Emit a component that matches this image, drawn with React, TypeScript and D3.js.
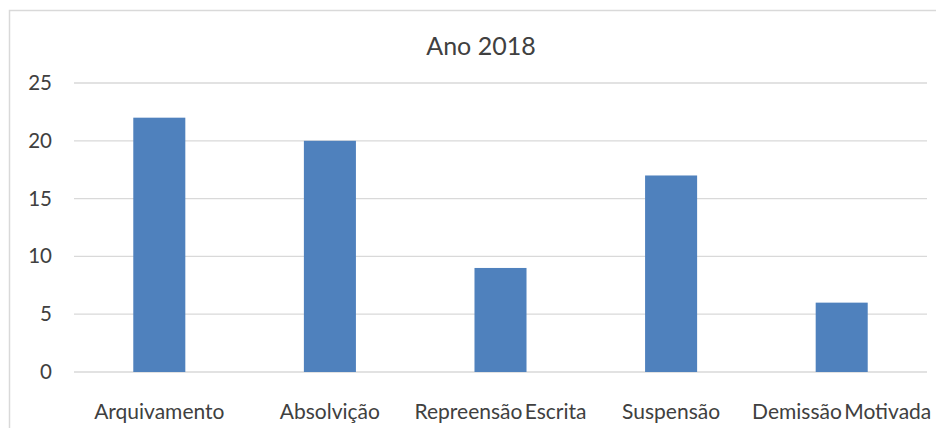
import React from "react";
import * as d3 from "d3";

const categories = ["Arquivamento", "Absolvição", "Repreensão Escrita", "Suspensão", "Demissão Motivada"];
const values = [22, 20, 9, 17, 6];
const yTicks = [0, 5, 10, 15, 20, 25];
const title = "Ano 2018";

export default function App() {
  const W = 936, H = 428;
  const left = 74, right = 927, top = 83, bottom = 372;
  const x = d3.scaleBand<string>().domain(categories).range([left, right]).paddingInner(0.695).paddingOuter(0.3475);
  const y = d3.scaleLinear().domain([0, 25]).range([bottom, top]);
  const font = "Lato, 'Open Sans', sans-serif";
  return (
    <svg width={W} height={H} style={{ position: "absolute", left: 0, top: 0, background: "#fff" }} fontFamily={font}>
      <rect x={9.5} y={10.5} width={W + 10} height={H + 10} fill="#fff" stroke="#d9d9d9" strokeWidth={1.5} />
      <text x={481} y={55} textAnchor="middle" fontSize={25} fill="#404040">{title}</text>
      {yTicks.map((t) => (
        <g key={t}>
          <line x1={left} x2={right} y1={y(t)} y2={y(t)} stroke="#d9d9d9" strokeWidth={1.3} />
          <text x={52} y={y(t) + 7} textAnchor="end" fontSize={20.5} fill="#404040">{t}</text>
        </g>
      ))}
      {categories.map((c, i) => (
        <rect key={c} x={x(c)} y={y(values[i])} width={x.bandwidth()} height={y(0) - y(values[i])} fill="#4F81BD" />
      ))}
      {categories.map((c) => (
        <text key={c} x={(x(c) as number) + x.bandwidth() / 2} y={419} textAnchor="middle" fontSize={21} wordSpacing={-3} fill="#404040">{c}</text>
      ))}
    </svg>
  );
}
